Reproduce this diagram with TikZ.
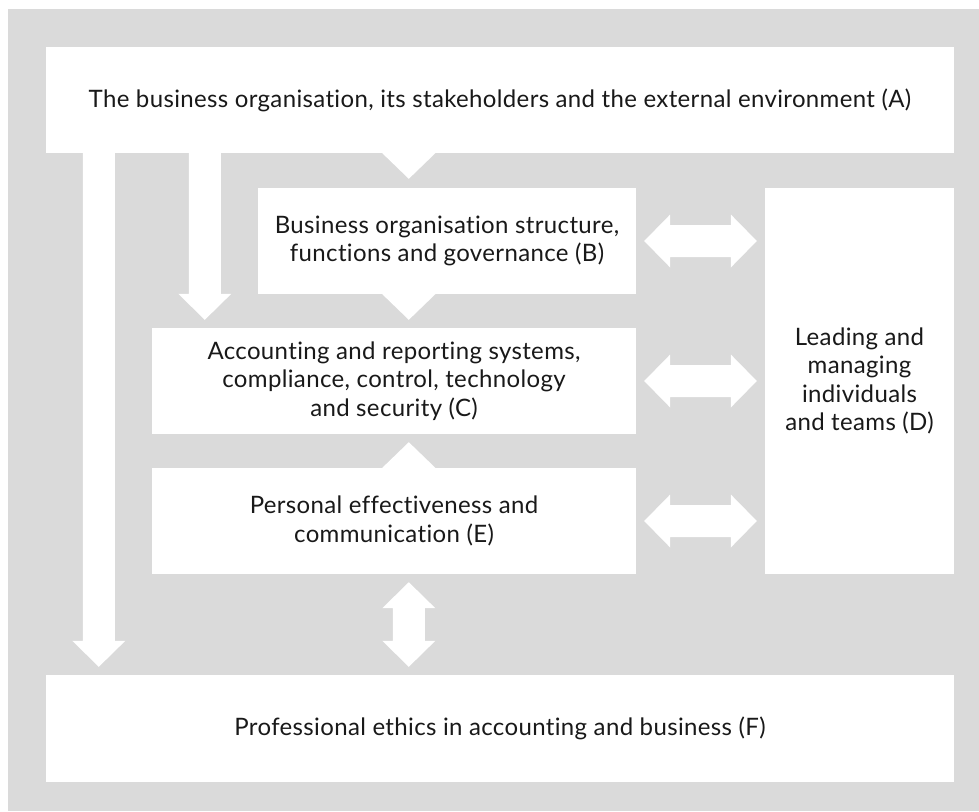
\documentclass[tikz,border=0pt]{standalone}
\usepackage{fontspec}
\setmainfont{Lato}[Ligatures=NoCommon, LetterSpace=1.5]
\usetikzlibrary{calc}
\definecolor{panelgray}{RGB}{218,218,218}
\tikzset{
  box/.style={fill=white, inner sep=0pt, align=center, text=black!90,
    font=\fontsize{24}{28.5}\selectfont},
  arrowfill/.style={fill=white}
}
% block arrow with one head, from #1 to #2
\newcommand{\fatarrow}[2]{%
  \path ($(#2)!26pt!(#1)$) coordinate (hb);
  \fill[arrowfill] ($(#1)!16pt!90:(#2)$) -- ($(hb)!16pt!-90:(#1)$) -- ($(hb)!26.5pt!-90:(#1)$) -- (#2)
    -- ($(hb)!26.5pt!90:(#1)$) -- ($(hb)!16pt!90:(#1)$) -- ($(#1)!16pt!-90:(#2)$) -- cycle;}
% block arrow with two heads
\newcommand{\fatdouble}[2]{%
  \path ($(#1)!26pt!(#2)$) coordinate (ha) ($(#2)!26pt!(#1)$) coordinate (hb);
  \fill[arrowfill] (#1) -- ($(ha)!26.5pt!90:(hb)$) -- ($(ha)!16pt!90:(hb)$) -- ($(hb)!16pt!-90:(ha)$)
    -- ($(hb)!26.5pt!-90:(ha)$) -- (#2) -- ($(hb)!26.5pt!90:(ha)$) -- ($(hb)!16pt!90:(ha)$)
    -- ($(ha)!16pt!-90:(hb)$) -- ($(ha)!26.5pt!-90:(hb)$) -- cycle;}
% head only, base #1, tip #2
\newcommand{\fathead}[2]{%
  \fill[arrowfill] ($(#1)!26.5pt!90:(#2)$) -- (#2) -- ($(#1)!26.5pt!-90:(#2)$) -- cycle;}

\begin{document}
\begin{tikzpicture}[x=1pt,y=-1pt]
\useasboundingbox (0,0) rectangle (979,811);
\fill[panelgray] (8,9) rectangle (979,811);

% boxes
\node[box, minimum width=908pt, minimum height=106pt] (A) at (500,100)
  {The business organisation, its stakeholders and the external environment (A)};
\node[box, minimum width=378pt, minimum height=106pt] (B) at (447,241)
  {Business organisation structure,\\functions and governance (B)};
\node[box, minimum width=484pt, minimum height=106pt] (C) at (394,381)
  {Accounting and reporting systems,\\compliance, control, technology\\and security (C)};
\node[box, minimum width=484pt, minimum height=106pt] (E) at (394,521)
  {Personal effectiveness and\\communication (E)};
\node[box, minimum width=189pt, minimum height=386pt] (D) at (859.5,381)
  {Leading and\\managing\\individuals\\and teams (D)};
\node[box, minimum width=908pt, minimum height=107pt] (F) at (500,728.5)
  {Professional ethics in accounting and business (F)};

% arrow ends
\coordinate (a1s) at ($(A.south west)+(53,0)$);
\coordinate (a1t) at ($(F.north west)+(53,-8)$);
\coordinate (a2s) at ($(A.south west)+(159,0)$);
\coordinate (a2t) at ($(C.north west)+(53,-8)$);
\coordinate (abs) at ($(A.south west)+(363,0)$);
\coordinate (abt) at ($(B.north west)+(151,-9)$);
\coordinate (bcs) at ($(B.south west)+(151,0)$);
\coordinate (bct) at ($(C.north west)+(257,-8)$);
\coordinate (ecs) at ($(E.north west)+(257,0)$);
\coordinate (ect) at ($(C.south west)+(257,8)$);
\coordinate (efs) at ($(E.south west)+(257,8)$);
\coordinate (eft) at ($(F.north west)+(363,-8)$);
\coordinate (bd1) at ($(B.east)+(8,0)$);
\coordinate (bd2) at ($(D.west |- B.east)+(-8,0)$);
\coordinate (cd1) at ($(C.east)+(8,0)$);
\coordinate (cd2) at ($(D.west |- C.east)+(-8,0)$);
\coordinate (ed1) at ($(E.east)+(8,0)$);
\coordinate (ed2) at ($(D.west |- E.east)+(-8,0)$);

% connectors
\fatarrow{a1s}{a1t}
\fatarrow{a2s}{a2t}
\fathead{abs}{abt}
\fathead{bcs}{bct}
\fathead{ecs}{ect}
\fatdouble{bd1}{bd2}
\fatdouble{cd1}{cd2}
\fatdouble{ed1}{ed2}
\fatdouble{efs}{eft}
\end{tikzpicture}
\end{document}
